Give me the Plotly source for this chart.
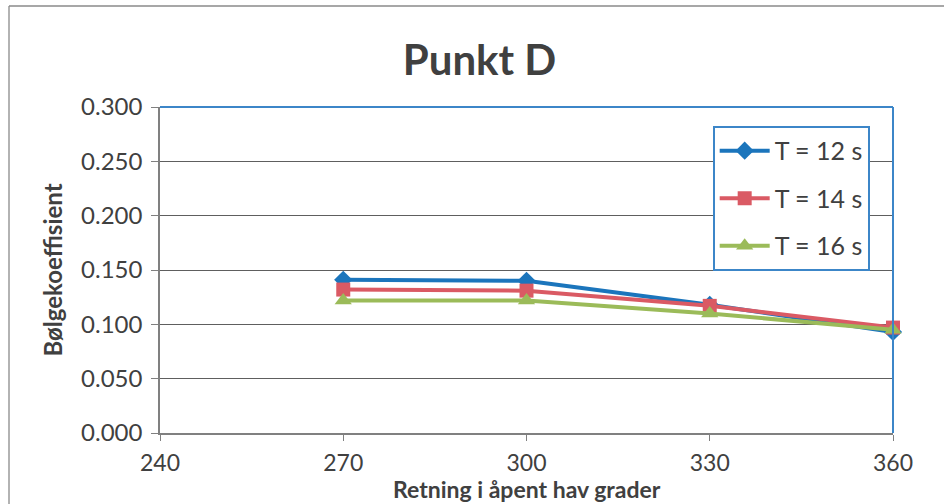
import plotly.graph_objects as go

# Wave-direction values (degrees) and wave coefficients per period
retning = [270, 300, 330, 360]
t12 = [0.141, 0.140, 0.118, 0.093]
t14 = [0.132, 0.131, 0.117, 0.097]
t16 = [0.122, 0.122, 0.110, 0.095]
serienavn = ["T = 12 s", "T = 14 s", "T = 16 s"]
x_ticks = [240, 270, 300, 330, 360]
y_ticks = [0.0, 0.05, 0.10, 0.15, 0.20, 0.25, 0.30]
x_tittel = "Retning i åpent hav grader"
y_tittel = "Bølgekoeffisient"

FONT = "Lato, 'Open Sans', sans-serif"
TXT = "#404040"

fig = go.Figure()
stil = [
    (t12, "#1B75BC", "diamond", 14),
    (t14, "#DA5A64", "square", 14),
    (t16, "#9BBB59", "triangle-up", 15),
]
for navn, (verdier, farge, symbol, str_) in zip(serienavn, stil):
    fig.add_trace(go.Scatter(
        x=retning, y=verdier, name=navn, legendgroup=navn,
        mode="lines+markers", cliponaxis=False,
        line=dict(color=farge, width=4),
        marker=dict(symbol=symbol, size=str_, color=farge),
    ))

fig.update_layout(
    width=944, height=504,
    margin=dict(l=160, r=51, t=107, b=71, autoexpand=False),
    paper_bgcolor="white", plot_bgcolor="white",
    font=dict(family=FONT, color=TXT),
    title=dict(text="<b>Punkt D</b>", x=0.508, xanchor="center",
               y=0.88, yanchor="middle",
               font=dict(size=42, color=TXT, family=FONT)),
    showlegend=True,
    legend=dict(
        x=0.754, y=0.942, xanchor="left", yanchor="top",
        bgcolor="white", bordercolor="#3C86C8", borderwidth=2,
        font=dict(size=25, color=TXT, family=FONT),
        tracegroupgap=12, itemwidth=50,
    ),
    xaxis=dict(
        range=[240, 360], tickvals=x_ticks, automargin=False,
        ticks="outside", ticklen=6, tickcolor="#808080",
        showline=True, linecolor="#808080", linewidth=1.5,
        showgrid=False, zeroline=False,
        tickfont=dict(size=23, color=TXT),
        ticklabelstandoff=3,
    ),
    yaxis=dict(
        range=[0, 0.3], tickvals=y_ticks, tickformat=".3f", automargin=False,
        ticks="outside", ticklen=7, tickcolor="#808080",
        showline=True, linecolor="#808080", linewidth=1.5,
        showgrid=True, gridcolor="#5e5e5e", gridwidth=1,
        zeroline=False,
        tickfont=dict(size=24, color=TXT),
        ticklabelstandoff=4,
        title=dict(text=f"<b>{y_tittel}</b>",
                   font=dict(size=24, color=TXT), standoff=12),
    ),
    annotations=[
        # x-axis title sits tight under the tick labels
        dict(text=f"<b>{x_tittel}</b>", xref="paper", yref="paper",
             x=0.5, y=-0.2178, xanchor="center", yanchor="bottom",
             showarrow=False, borderpad=0,
             font=dict(size=23, color=TXT, family=FONT)),
    ],
    shapes=[
        # top and right border of the plot area
        dict(type="line", xref="paper", yref="paper", x0=0, x1=1, y0=1, y1=1,
             line=dict(color="#3C86C8", width=2)),
        dict(type="line", xref="paper", yref="paper", x0=1, x1=1, y0=0, y1=1,
             line=dict(color="#3C86C8", width=2)),
        # chart frame edges
        dict(type="line", xref="paper", yref="paper", x0=-0.206, x1=-0.206,
             y0=-0.218, y1=1.31, line=dict(color="#9a9a9a", width=1.5)),
        dict(type="line", xref="paper", yref="paper", x0=-0.206, x1=1.07,
             y0=1.31, y1=1.31, line=dict(color="#8a8a8a", width=1.5)),
    ],
)

fig.write_html("out.html")
